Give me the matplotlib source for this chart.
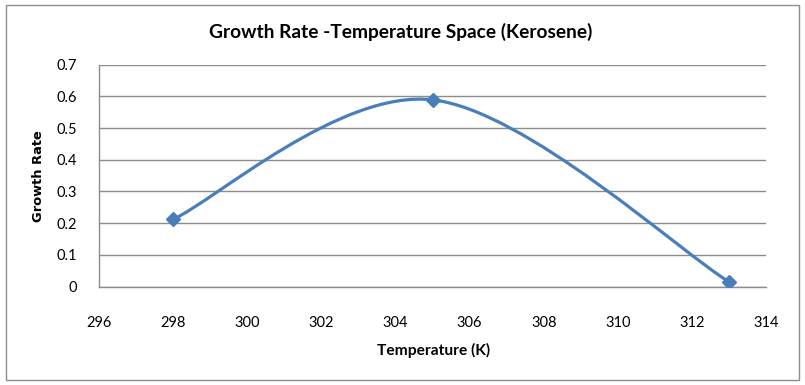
import matplotlib.pyplot as plt
from matplotlib.path import Path
from matplotlib.patches import PathPatch, Rectangle

temperature = [298, 305, 313]
growth_rate = [0.212, 0.589, 0.015]
x_ticks = [296, 298, 300, 302, 304, 306, 308, 310, 312, 314]
y_ticks = [0, 0.1, 0.2, 0.3, 0.4, 0.5, 0.6, 0.7]

line_color = '#4a7ebb'
grid_color = '#8c8c8c'

plt.rcParams['font.family'] = ['Lato', 'DejaVu Sans']

fig = plt.figure(figsize=(8.05, 3.85), dpi=100)
ax = fig.add_axes([0.123, 0.2556, 0.8286, 0.5766])

# smoothed line like Excel (cubic bezier through the points)
pts = list(zip(temperature, growth_rate))
n = len(pts)
verts = [pts[0]]
codes = [Path.MOVETO]
for i in range(n - 1):
    p0 = pts[max(i - 1, 0)]
    p1 = pts[i]
    p2 = pts[i + 1]
    p3 = pts[min(i + 2, n - 1)]
    c1 = (p1[0] + (p2[0] - p0[0]) / 6, p1[1] + (p2[1] - p0[1]) / 6)
    c2 = (p2[0] - (p3[0] - p1[0]) / 6, p2[1] - (p3[1] - p1[1]) / 6)
    verts += [c1, c2, p2]
    codes += [Path.CURVE4] * 3
ax.add_patch(PathPatch(Path(verts, codes), fill=False, edgecolor=line_color,
                       linewidth=2.3, zorder=3, capstyle='round'))
ax.plot(temperature, growth_rate, linestyle='none', marker='D', markersize=7.5,
        color=line_color, zorder=4)

ax.set_xlim(296, 314)
ax.set_ylim(0, 0.7)
ax.set_xticks(x_ticks)
ax.set_yticks(y_ticks)
ax.set_xticklabels([str(t) for t in x_ticks])
ax.set_yticklabels(['0'] + [f'{v:.1f}' for v in y_ticks[1:]])
ax.tick_params(length=0, labelsize=10.5, colors='black')
ax.tick_params(axis='x', pad=21)
ax.tick_params(axis='y', pad=16)
ax.grid(axis='y', color=grid_color, linewidth=1)
ax.set_axisbelow(True)
for side in ['top', 'right']:
    ax.spines[side].set_visible(False)
for side in ['left', 'bottom']:
    ax.spines[side].set_color(grid_color)
    ax.spines[side].set_linewidth(1)

fig.text(0.498, 0.917, 'Growth Rate -Temperature Space (Kerosene)', ha='center',
         va='center', fontsize=13.8, fontweight='bold')
fig.text(0.538, 0.09, 'Temperature (K)', ha='center', va='center',
         fontsize=11.2, fontweight='bold')
fig.text(0.048, 0.542, 'Growth Rate', ha='center', va='center', rotation=90,
         fontsize=9.4, fontweight='bold', family=['DejaVu Sans'])

fig.patches.append(Rectangle((0.008, 0.013), 0.984, 0.975, transform=fig.transFigure,
                             fill=False, edgecolor='#8c8c8c', linewidth=1))

plt.savefig('out.png', dpi=100)
